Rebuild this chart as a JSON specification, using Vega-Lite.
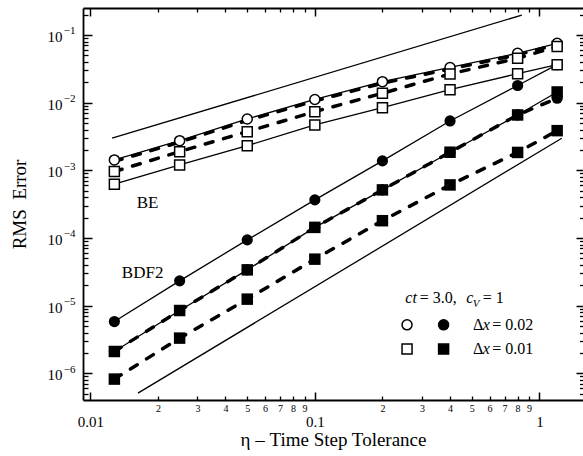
{
  "$schema": "https://vega.github.io/schema/vega-lite/v6.json",
  "width": 500,
  "height": 392,
  "autosize": {"type": "none"},
  "padding": {"left": 83, "top": 8, "right": 0, "bottom": 56},
  "background": "white",
  "config": {
    "view": {"stroke": null},
    "font": "Liberation Serif",
    "axis": {
      "grid": false,
      "labelColor": "black",
      "tickColor": "black",
      "domainColor": "black",
      "titleColor": "black",
      "labelFont": "Liberation Serif",
      "titleFont": "Liberation Serif",
      "titleFontWeight": "normal",
      "labelFlush": false,
      "labelOverlap": false,
      "tickWidth": 1.3,
      "domainWidth": 1.8
    }
  },
  "datasets": {
    "runs": [
      {"method": "BE", "dx": 0.02, "run": "A", "eta": 0.0128, "err": 0.001424},
      {"method": "BE", "dx": 0.02, "run": "A", "eta": 0.025, "err": 0.002746},
      {"method": "BE", "dx": 0.02, "run": "A", "eta": 0.05, "err": 0.005743},
      {"method": "BE", "dx": 0.02, "run": "A", "eta": 0.1, "err": 0.01115},
      {"method": "BE", "dx": 0.02, "run": "A", "eta": 0.2, "err": 0.02043},
      {"method": "BE", "dx": 0.02, "run": "A", "eta": 0.4, "err": 0.0331},
      {"method": "BE", "dx": 0.02, "run": "A", "eta": 0.8, "err": 0.0537},
      {"method": "BE", "dx": 0.02, "run": "A", "eta": 1.2, "err": 0.0754},
      {"method": "BE", "dx": 0.02, "run": "B", "eta": 0.0128, "err": 0.001353},
      {"method": "BE", "dx": 0.02, "run": "B", "eta": 0.025, "err": 0.00261},
      {"method": "BE", "dx": 0.02, "run": "B", "eta": 0.05, "err": 0.00546},
      {"method": "BE", "dx": 0.02, "run": "B", "eta": 0.1, "err": 0.01059},
      {"method": "BE", "dx": 0.02, "run": "B", "eta": 0.2, "err": 0.01941},
      {"method": "BE", "dx": 0.02, "run": "B", "eta": 0.4, "err": 0.03147},
      {"method": "BE", "dx": 0.02, "run": "B", "eta": 0.8, "err": 0.051},
      {"method": "BE", "dx": 0.02, "run": "B", "eta": 1.2, "err": 0.0724},
      {"method": "BE", "dx": 0.01, "run": "B", "eta": 0.0128, "err": 0.000957},
      {"method": "BE", "dx": 0.01, "run": "B", "eta": 0.025, "err": 0.001889},
      {"method": "BE", "dx": 0.01, "run": "B", "eta": 0.05, "err": 0.003728},
      {"method": "BE", "dx": 0.01, "run": "B", "eta": 0.1, "err": 0.00736},
      {"method": "BE", "dx": 0.01, "run": "B", "eta": 0.2, "err": 0.01377},
      {"method": "BE", "dx": 0.01, "run": "B", "eta": 0.4, "err": 0.02653},
      {"method": "BE", "dx": 0.01, "run": "B", "eta": 0.8, "err": 0.04527},
      {"method": "BE", "dx": 0.01, "run": "B", "eta": 1.2, "err": 0.0676},
      {"method": "BE", "dx": 0.01, "run": "A", "eta": 0.0128, "err": 0.000623},
      {"method": "BE", "dx": 0.01, "run": "A", "eta": 0.025, "err": 0.001202},
      {"method": "BE", "dx": 0.01, "run": "A", "eta": 0.05, "err": 0.002316},
      {"method": "BE", "dx": 0.01, "run": "A", "eta": 0.1, "err": 0.004685},
      {"method": "BE", "dx": 0.01, "run": "A", "eta": 0.2, "err": 0.00841},
      {"method": "BE", "dx": 0.01, "run": "A", "eta": 0.4, "err": 0.01556},
      {"method": "BE", "dx": 0.01, "run": "A", "eta": 0.8, "err": 0.02681},
      {"method": "BE", "dx": 0.01, "run": "A", "eta": 1.2, "err": 0.0364},
      {"method": "BDF2", "dx": 0.02, "run": "A", "eta": 0.0128, "err": 0.00000582},
      {"method": "BDF2", "dx": 0.02, "run": "A", "eta": 0.025, "err": 0.00002324},
      {"method": "BDF2", "dx": 0.02, "run": "A", "eta": 0.05, "err": 0.0000937},
      {"method": "BDF2", "dx": 0.02, "run": "A", "eta": 0.1, "err": 0.0003655},
      {"method": "BDF2", "dx": 0.02, "run": "A", "eta": 0.2, "err": 0.001377},
      {"method": "BDF2", "dx": 0.02, "run": "A", "eta": 0.4, "err": 0.005366},
      {"method": "BDF2", "dx": 0.02, "run": "A", "eta": 0.8, "err": 0.01795},
      {"method": "BDF2", "dx": 0.02, "run": "A", "eta": 1.2, "err": 0.0364},
      {"method": "BDF2", "dx": 0.02, "run": "B", "eta": 0.0128, "err": 0.0000021},
      {"method": "BDF2", "dx": 0.02, "run": "B", "eta": 0.025, "err": 0.00000847},
      {"method": "BDF2", "dx": 0.02, "run": "B", "eta": 0.05, "err": 0.00003379},
      {"method": "BDF2", "dx": 0.02, "run": "B", "eta": 0.1, "err": 0.0001434},
      {"method": "BDF2", "dx": 0.02, "run": "B", "eta": 0.2, "err": 0.0005135},
      {"method": "BDF2", "dx": 0.02, "run": "B", "eta": 0.4, "err": 0.001851},
      {"method": "BDF2", "dx": 0.02, "run": "B", "eta": 0.8, "err": 0.00658},
      {"method": "BDF2", "dx": 0.02, "run": "B", "eta": 1.2, "err": 0.01161},
      {"method": "BDF2", "dx": 0.01, "run": "A", "eta": 0.0128, "err": 0.0000021},
      {"method": "BDF2", "dx": 0.01, "run": "A", "eta": 0.025, "err": 0.00000847},
      {"method": "BDF2", "dx": 0.01, "run": "A", "eta": 0.05, "err": 0.00003379},
      {"method": "BDF2", "dx": 0.01, "run": "A", "eta": 0.1, "err": 0.0001434},
      {"method": "BDF2", "dx": 0.01, "run": "A", "eta": 0.2, "err": 0.0005135},
      {"method": "BDF2", "dx": 0.01, "run": "A", "eta": 0.4, "err": 0.001851},
      {"method": "BDF2", "dx": 0.01, "run": "A", "eta": 0.8, "err": 0.00658},
      {"method": "BDF2", "dx": 0.01, "run": "A", "eta": 1.2, "err": 0.01439},
      {"method": "BDF2", "dx": 0.01, "run": "B", "eta": 0.0128, "err": 0.000000821},
      {"method": "BDF2", "dx": 0.01, "run": "B", "eta": 0.025, "err": 0.000003311},
      {"method": "BDF2", "dx": 0.01, "run": "B", "eta": 0.05, "err": 0.00001247},
      {"method": "BDF2", "dx": 0.01, "run": "B", "eta": 0.1, "err": 0.00004863},
      {"method": "BDF2", "dx": 0.01, "run": "B", "eta": 0.2, "err": 0.00018},
      {"method": "BDF2", "dx": 0.01, "run": "B", "eta": 0.4, "err": 0.0006085},
      {"method": "BDF2", "dx": 0.01, "run": "B", "eta": 0.8, "err": 0.001838},
      {"method": "BDF2", "dx": 0.01, "run": "B", "eta": 1.2, "err": 0.003857}
    ],
    "refs": [
      {"line": "first order", "eta": 0.0125, "err": 0.00298},
      {"line": "first order", "eta": 0.835, "err": 0.197},
      {"line": "second order", "eta": 0.0163, "err": 0.000000509},
      {"line": "second order", "eta": 1.258, "err": 0.00298}
    ],
    "key": [
      {"method": "BE", "dx": 0.02, "eta": 0.2574, "err": 0.000005204},
      {"method": "BDF2", "dx": 0.02, "eta": 0.3745, "err": 0.000005204},
      {"method": "BE", "dx": 0.01, "eta": 0.2574, "err": 0.000002278},
      {"method": "BDF2", "dx": 0.01, "eta": 0.3745, "err": 0.000002278}
    ],
    "notes": [
      {"eta": 0.018, "err": 0.000327, "text": "BE"},
      {"eta": 0.0171, "err": 0.0000302, "text": "BDF2"}
    ],
    "keyRoman": [
      {"eta": 0.2935, "err": 0.00001291, "text": "= 3.0,"},
      {"eta": 0.5594, "err": 0.00001291, "text": "= 1"},
      {"eta": 0.5057, "err": 0.000005204, "text": "Δ"},
      {"eta": 0.6163, "err": 0.000005204, "text": "= 0.02"},
      {"eta": 0.5057, "err": 0.000002278, "text": "Δ"},
      {"eta": 0.6163, "err": 0.000002278, "text": "= 0.01"}
    ],
    "keyItalic": [
      {"eta": 0.253, "err": 0.00001291, "text": "ct"},
      {"eta": 0.4722, "err": 0.00001291, "text": "c"},
      {"eta": 0.5594, "err": 0.000005204, "text": "x"},
      {"eta": 0.5594, "err": 0.000002278, "text": "x"}
    ],
    "keySub": [
      {"eta": 0.5046, "err": 0.00001063, "text": "V"}
    ]
  },
  "data": {"name": "runs"},
  "resolve": {"axis": {"x": "independent", "y": "independent"}},
  "layer": [
    {
      "data": {"name": "refs"},
      "mark": {"type": "line", "color": "black", "strokeWidth": 1.3},
      "encoding": {
        "x": {"field": "eta", "type": "quantitative", "scale": {"type": "log", "domain": [0.00928, 1.564], "nice": false},
          "axis": {"orient": "bottom", "values": [0.01, 0.1, 1], "format": "~g", "tickSize": -8, "tickWidth": 1.5, "labelPadding": 22, "labelFontSize": 15,
            "title": "η – Time Step Tolerance", "titleFontSize": 19, "titleBaseline": "alphabetic", "titleY": 45}},
        "y": {"field": "err", "type": "quantitative", "scale": {"type": "log", "domain": [4.03e-7, 0.2506], "nice": false},
          "axis": {"orient": "left", "values": [1e-6, 1e-5, 1e-4, 1e-3, 1e-2, 1e-1], "labelExpr": "'10'", "tickSize": -9, "tickWidth": 1.5, "labelPadding": 30, "labelFontSize": 15, "labelBaseline": "middle", "labelOffset": 1.5,
            "title": "RMS\u00a0\u00a0Error", "titleFontSize": 19, "titleAngle": -90, "titleBaseline": "alphabetic", "titleX": -58}},
        "detail": {"field": "line"}
      }
    },
    {
      "transform": [{"filter": "datum.run === 'A'"}],
      "mark": {"type": "line", "color": "black", "strokeWidth": 1.3},
      "encoding": {
        "x": {"field": "eta", "type": "quantitative", "scale": {"type": "log", "domain": [0.00928, 1.564], "nice": false},
          "axis": {"orient": "bottom", "values": [0.02, 0.03, 0.04, 0.05, 0.06, 0.07, 0.08, 0.09, 0.2, 0.3, 0.4, 0.5, 0.6, 0.7, 0.8, 0.9],
            "labelExpr": "round(datum.value / pow(10, floor(log(datum.value) / LN10 + 0.000001)))", "tickSize": -4, "domain": false, "labelPadding": 7, "labelFontSize": 10, "title": null}},
        "y": {"field": "err", "type": "quantitative", "scale": {"type": "log", "domain": [4.03e-7, 0.2506], "nice": false},
          "axis": {"orient": "left", "values": [1e-6, 1e-5, 1e-4, 1e-3, 1e-2, 1e-1], "labelExpr": "'−' + round(-log(datum.value) / LN10)", "tickSize": -9, "tickOpacity": 0, "domain": false, "labelPadding": 17, "labelFontSize": 11, "labelBaseline": "middle", "labelOffset": -4, "title": null}},
        "detail": [{"field": "method"}, {"field": "dx"}]
      }
    },
    {
      "transform": [{"filter": "datum.run === 'B'"}],
      "mark": {"type": "line", "color": "black", "strokeWidth": 3.5, "strokeDash": [8, 11], "strokeCap": "round"},
      "encoding": {
        "x": {"field": "eta", "type": "quantitative", "scale": {"type": "log", "domain": [0.00928, 1.564], "nice": false},
          "axis": {"orient": "top", "values": [0.01, 0.1, 1], "tickSize": -8, "tickWidth": 1.5, "labels": false, "title": null}},
        "y": {"field": "err", "type": "quantitative", "scale": {"type": "log", "domain": [4.03e-7, 0.2506], "nice": false},
          "axis": {"orient": "left", "values": [5e-7, 6e-7, 7e-7, 8e-7, 9e-7, 2e-6, 3e-6, 4e-6, 5e-6, 6e-6, 7e-6, 8e-6, 9e-6, 2e-5, 3e-5, 4e-5, 5e-5, 6e-5, 7e-5, 8e-5, 9e-5, 2e-4, 3e-4, 4e-4, 5e-4, 6e-4, 7e-4, 8e-4, 9e-4, 2e-3, 3e-3, 4e-3, 5e-3, 6e-3, 7e-3, 8e-3, 9e-3, 2e-2, 3e-2, 4e-2, 5e-2, 6e-2, 7e-2, 8e-2, 9e-2, 2e-1],
            "tickSize": -5, "labels": false, "domain": false, "title": null}},
        "detail": [{"field": "method"}, {"field": "dx"}]
      }
    },
    {
      "transform": [{"filter": "datum.method === 'BDF2' && datum.dx === 0.02"}],
      "mark": {"type": "point", "shape": "circle", "filled": true, "fill": "black", "size": 125, "opacity": 1},
      "encoding": {
        "x": {"field": "eta", "type": "quantitative", "scale": {"type": "log", "domain": [0.00928, 1.564], "nice": false},
          "axis": {"orient": "top", "values": [0.02, 0.03, 0.04, 0.05, 0.06, 0.07, 0.08, 0.09, 0.2, 0.3, 0.4, 0.5, 0.6, 0.7, 0.8, 0.9], "tickSize": -4, "labels": false, "domain": false, "title": null}},
        "y": {"field": "err", "type": "quantitative", "scale": {"type": "log", "domain": [4.03e-7, 0.2506], "nice": false},
          "axis": {"orient": "right", "values": [1e-6, 1e-5, 1e-4, 1e-3, 1e-2, 1e-1], "tickSize": -7, "tickWidth": 1.5, "labels": false, "domain": false, "title": null}}
      }
    },
    {
      "transform": [{"filter": "datum.method === 'BE' && datum.dx === 0.02 && datum.run === 'A'"}],
      "mark": {"type": "point", "shape": "circle", "filled": true, "fill": "white", "stroke": "black", "strokeWidth": 1.5, "size": 100, "opacity": 1},
      "encoding": {
        "x": {"field": "eta", "type": "quantitative", "scale": {"type": "log", "domain": [0.00928, 1.564], "nice": false}, "axis": null},
        "y": {"field": "err", "type": "quantitative", "scale": {"type": "log", "domain": [4.03e-7, 0.2506], "nice": false},
          "axis": {"orient": "right", "values": [5e-7, 6e-7, 7e-7, 8e-7, 9e-7, 2e-6, 3e-6, 4e-6, 5e-6, 6e-6, 7e-6, 8e-6, 9e-6, 2e-5, 3e-5, 4e-5, 5e-5, 6e-5, 7e-5, 8e-5, 9e-5, 2e-4, 3e-4, 4e-4, 5e-4, 6e-4, 7e-4, 8e-4, 9e-4, 2e-3, 3e-3, 4e-3, 5e-3, 6e-3, 7e-3, 8e-3, 9e-3, 2e-2, 3e-2, 4e-2, 5e-2, 6e-2, 7e-2, 8e-2, 9e-2, 2e-1],
            "tickSize": -3.5, "labels": false, "domain": false, "title": null}}
      }
    },
    {
      "transform": [{"filter": "datum.method === 'BDF2' && datum.dx === 0.01"}],
      "mark": {"type": "point", "shape": "square", "filled": true, "fill": "black", "size": 132, "opacity": 1},
      "encoding": {
        "x": {"field": "eta", "type": "quantitative", "scale": {"type": "log", "domain": [0.00928, 1.564], "nice": false}, "axis": null},
        "y": {"field": "err", "type": "quantitative", "scale": {"type": "log", "domain": [4.03e-7, 0.2506], "nice": false}, "axis": null}
      }
    },
    {
      "transform": [{"filter": "datum.method === 'BE' && datum.dx === 0.01"}],
      "mark": {"type": "point", "shape": "square", "filled": true, "fill": "white", "stroke": "black", "strokeWidth": 1.5, "size": 100, "opacity": 1},
      "encoding": {
        "x": {"field": "eta", "type": "quantitative", "scale": {"type": "log", "domain": [0.00928, 1.564], "nice": false}, "axis": null},
        "y": {"field": "err", "type": "quantitative", "scale": {"type": "log", "domain": [4.03e-7, 0.2506], "nice": false}, "axis": null}
      }
    },
    {
      "data": {"name": "key"},
      "mark": {"type": "point", "filled": true, "stroke": "black", "strokeWidth": 1.5, "size": 100, "opacity": 1},
      "encoding": {
        "x": {"field": "eta", "type": "quantitative", "scale": {"type": "log", "domain": [0.00928, 1.564], "nice": false}, "axis": null},
        "y": {"field": "err", "type": "quantitative", "scale": {"type": "log", "domain": [4.03e-7, 0.2506], "nice": false}, "axis": null},
        "shape": {"field": "dx", "type": "nominal", "scale": {"domain": [0.02, 0.01], "range": ["circle", "square"]}, "legend": null},
        "fill": {"field": "method", "type": "nominal", "scale": {"domain": ["BE", "BDF2"], "range": ["white", "black"]}, "legend": null}
      }
    },
    {
      "data": {"name": "notes"},
      "mark": {"type": "text", "font": "Liberation Serif", "fontSize": 17, "align": "center", "baseline": "middle", "color": "black"},
      "encoding": {
        "x": {"field": "eta", "type": "quantitative", "scale": {"type": "log", "domain": [0.00928, 1.564], "nice": false}, "axis": null},
        "y": {"field": "err", "type": "quantitative", "scale": {"type": "log", "domain": [4.03e-7, 0.2506], "nice": false}, "axis": null},
        "text": {"field": "text"}
      }
    },
    {
      "data": {"name": "keyRoman"},
      "mark": {"type": "text", "font": "Liberation Serif", "fontSize": 16, "align": "left", "baseline": "middle", "color": "black"},
      "encoding": {
        "x": {"field": "eta", "type": "quantitative", "scale": {"type": "log", "domain": [0.00928, 1.564], "nice": false}, "axis": null},
        "y": {"field": "err", "type": "quantitative", "scale": {"type": "log", "domain": [4.03e-7, 0.2506], "nice": false}, "axis": null},
        "text": {"field": "text"}
      }
    },
    {
      "data": {"name": "keyItalic"},
      "mark": {"type": "text", "font": "Liberation Serif", "fontSize": 16, "fontStyle": "italic", "align": "left", "baseline": "middle", "color": "black"},
      "encoding": {
        "x": {"field": "eta", "type": "quantitative", "scale": {"type": "log", "domain": [0.00928, 1.564], "nice": false}, "axis": null},
        "y": {"field": "err", "type": "quantitative", "scale": {"type": "log", "domain": [4.03e-7, 0.2506], "nice": false}, "axis": null},
        "text": {"field": "text"}
      }
    },
    {
      "data": {"name": "keySub"},
      "mark": {"type": "text", "font": "Liberation Serif", "fontSize": 11, "fontStyle": "italic", "align": "left", "baseline": "middle", "color": "black"},
      "encoding": {
        "x": {"field": "eta", "type": "quantitative", "scale": {"type": "log", "domain": [0.00928, 1.564], "nice": false}, "axis": null},
        "y": {"field": "err", "type": "quantitative", "scale": {"type": "log", "domain": [4.03e-7, 0.2506], "nice": false}, "axis": null},
        "text": {"field": "text"}
      }
    }
  ]
}
